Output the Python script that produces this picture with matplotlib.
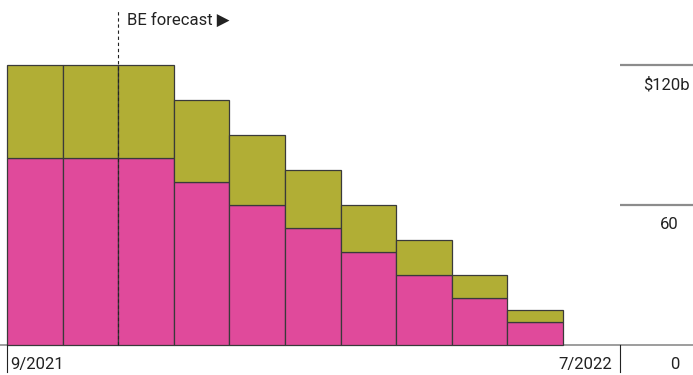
import matplotlib
matplotlib.use("Agg")
import matplotlib.pyplot as plt

# Monthly values, $ billions
months = ["9/2021", "10/2021", "11/2021", "12/2021", "1/2022",
          "2/2022", "3/2022", "4/2022", "5/2022", "6/2022"]
pink_vals = [80, 80, 80, 70, 60, 50, 40, 30, 20, 10]
olive_vals = [40, 40, 40, 35, 30, 25, 20, 15, 10, 5]
y_ticks = [0, 60, 120]
y_tick_labels = ["0", "60", "$120b"]
x_labels = ["9/2021", "7/2022"]
forecast_start = 2

PINK = "#E04A9B"
OLIVE = "#B1AE35"
EDGE = "#3a3a3a"
GRID = "#8c8c8c"
TEXT = "#222222"

plt.rcParams["font.family"] = ["Roboto", "DejaVu Sans"]
FS = 12

fig = plt.figure(figsize=(6.93, 3.75), dpi=100)
ax = fig.add_axes([0, 0, 1, 1])
ax.set_xlim(-0.126, 12.34)
ax.set_ylim(-12.86, 147.9)
ax.axis("off")

xs = list(range(len(months)))
ax.bar(xs, pink_vals, width=1, align="edge", color=PINK,
       edgecolor=EDGE, linewidth=0.9, zorder=2)
ax.bar(xs, olive_vals, width=1, bottom=pink_vals, align="edge", color=OLIVE,
       edgecolor=EDGE, linewidth=0.9, zorder=2)

# Axis at the right: short gridlines with labels beneath
axis_x = 11.03
x_right = 12.34
ax.plot([-0.126, x_right], [0, 0], color=GRID, lw=1.2, zorder=1,
        solid_capstyle="butt")
for v, lab in zip(y_ticks, y_tick_labels):
    if v > 0:
        ax.plot([axis_x, x_right], [v, v], color=GRID, lw=1.6, zorder=1,
                solid_capstyle="butt")
    tx = 12.28 if lab.endswith("b") else 12.09
    ax.text(tx, v - 10.3, lab, ha="right", va="baseline", fontsize=FS,
            color=TEXT)

# Bottom ticks and date labels
tick_bottom = -11.6
ax.plot([0, 0], [0, tick_bottom], color=TEXT, lw=0.8)
ax.plot([axis_x, axis_x], [0, tick_bottom], color=TEXT, lw=0.8)
ax.text(0.055, -10.2, x_labels[0], ha="left", va="baseline", fontsize=FS,
        color=TEXT)
ax.text(10.88, -10.2, x_labels[1], ha="right", va="baseline", fontsize=FS,
        color=TEXT)

# Forecast divider
ax.plot([forecast_start, forecast_start], [0, 143.6], color=TEXT, lw=0.8,
        ls=(0, (3, 2.5)), zorder=3)
ax.text(forecast_start + 0.15, 137.1, "BE forecast \u25B6", ha="left",
        va="baseline", fontsize=FS, color=TEXT,
        family=["Roboto", "DejaVu Sans"])

fig.savefig("out.png", dpi=100)
